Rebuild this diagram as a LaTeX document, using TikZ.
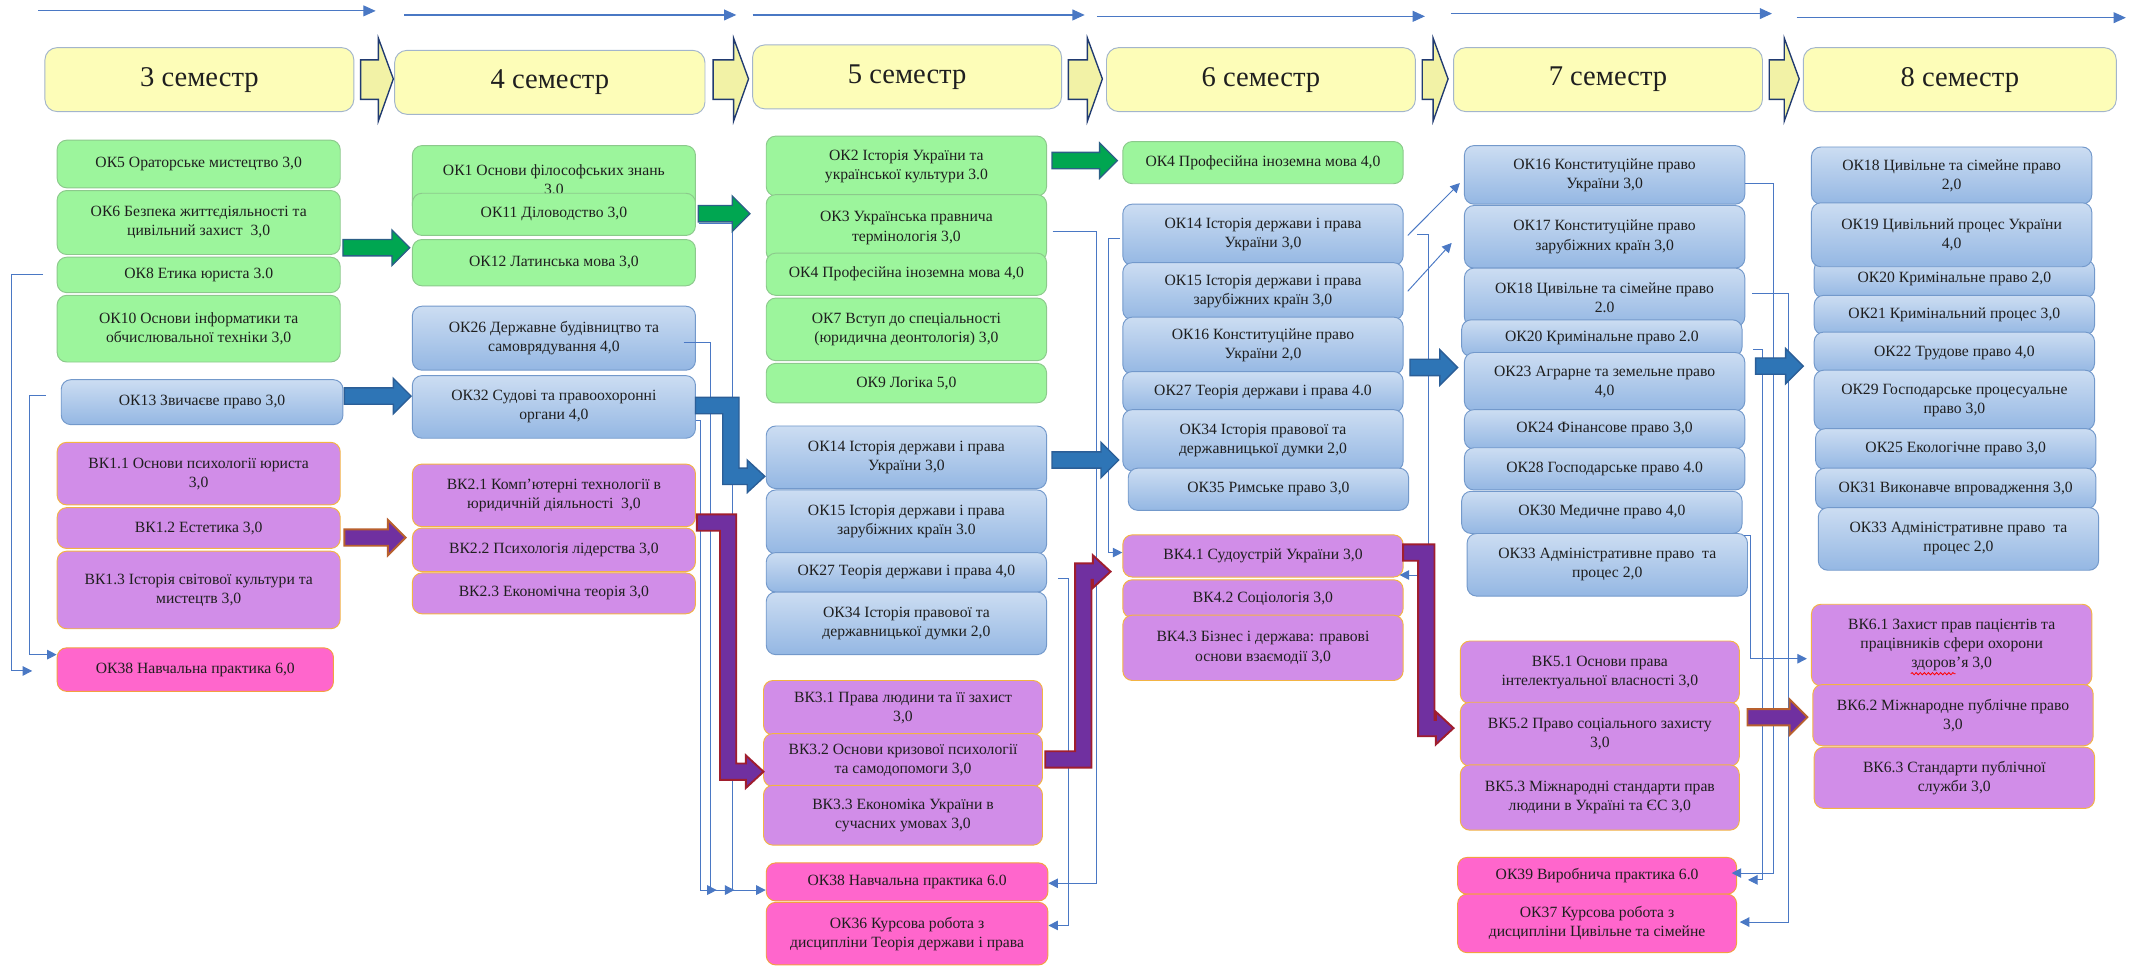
\documentclass[tikz,border=0pt]{standalone}
\usepackage{fontspec}
\setmainfont{Liberation Serif}
\usetikzlibrary{arrows.meta,decorations.pathmorphing}

\definecolor{hdrfill}{HTML}{FDFDB8}
\definecolor{hdrdraw}{HTML}{A3B5CC}
\definecolor{grfill}{HTML}{9CF59C}
\definecolor{grdraw}{HTML}{8CC98C}
\definecolor{bltop}{HTML}{CCDDF2}
\definecolor{blbot}{HTML}{94B7E3}
\definecolor{bldraw}{HTML}{7399CB}
\definecolor{vkfill}{HTML}{D18DE8}
\definecolor{vkdraw}{HTML}{F3B443}
\definecolor{pkfill}{HTML}{FF66CC}
\definecolor{pkdraw}{HTML}{F3A040}
\definecolor{conn}{HTML}{4A78C4}
\definecolor{agreen}{HTML}{00A651}
\definecolor{agreend}{HTML}{2B5F86}
\definecolor{ablue}{HTML}{2E75B6}
\definecolor{abluedraw}{HTML}{2B5E97}
\definecolor{apurple}{HTML}{7030A0}
\definecolor{apurpd}{HTML}{B8602E}
\definecolor{apurpr}{HTML}{A01E2E}
\definecolor{chevfill}{HTML}{F2F2A6}
\definecolor{chevdraw}{HTML}{203A70}

\tikzset{
 box/.style={rounded corners=7pt, line width=0.7pt, align=center, inner sep=1pt,
   font=\fontsize{11.5}{14}\selectfont, text=black!88},
 hdr/.style={box, fill=hdrfill, draw=hdrdraw, font=\fontsize{21}{24}\selectfont, rounded corners=9pt},
 okg/.style={box, fill=grfill, draw=grdraw},
 okb/.style={box, top color=bltop, bottom color=blbot, draw=bldraw},
 vk/.style={box, fill=vkfill, draw=vkdraw},
 pk/.style={box, fill=pkfill, draw=pkdraw},
 cn/.style={draw=conn, line width=0.7pt, -{Triangle[length=7pt,width=7pt]}},
 tar/.style={draw=conn, line width=0.8pt, -{Triangle[length=9pt,width=8pt]}},
 garr/.style={fill=agreen, draw=agreend, line width=1pt},
 barr/.style={fill=ablue, draw=abluedraw, line width=1pt},
 parr/.style={fill=apurple, draw=apurpd, line width=1.4pt},
 parrb/.style={fill=apurple, draw=apurpr, line width=1.4pt},
 chev/.style={fill=chevfill, draw=chevdraw, line width=1pt},
}

% box: style, name, x1, y1, x2, y2, text
\newcommand\bx[7]{\node[#1,minimum width=#5-#3,minimum height=#6-#4] (#2) at ({(#3+#5)/2},{(#4+#6)/2}) {#7};}
% straight block arrow: x1, x2, y, style
\newcommand\sarr[4]{\filldraw[#4] (#1,#3-6) -- (#2-13,#3-6) -- (#2-13,#3-13) -- (#2,#3) -- (#2-13,#3+13) -- (#2-13,#3+6) -- (#1,#3+6) -- cycle;}
% bent block arrow going down: x0, y0, xc, y1, x2, style
\newcommand\bdown[6]{\filldraw[#6] (#1,#2-6) -- (#3+6,#2-6) -- (#3+6,#4-6) -- (#5-13,#4-6) -- (#5-13,#4-12) -- (#5,#4) -- (#5-13,#4+12) -- (#5-13,#4+6) -- (#3-6,#4+6) -- (#3-6,#2+6) -- (#1,#2+6) -- cycle;}
% bent block arrow going up
\newcommand\bup[6]{\filldraw[#6] (#1,#2+6) -- (#3+6,#2+6) -- (#3+6,#4+6) -- (#5-13,#4+6) -- (#5-13,#4+12) -- (#5,#4) -- (#5-13,#4-12) -- (#5-13,#4-6) -- (#3-6,#4-6) -- (#3-6,#2-6) -- (#1,#2-6) -- cycle;}
% chevron between headers: x1, x2
\newcommand\chv[2]{\filldraw[chev] (#1,44) -- (#2-11,44) -- (#2-11,28) -- (#2,58) -- (#2-11,89) -- (#2-11,73) -- (#1,73) -- cycle;}

\begin{document}
\begin{tikzpicture}[x=1pt,y=-1pt]
\useasboundingbox (0,0) rectangle (1568,711);

% top arrows
\coordinate (t1a) at (28,8);    \coordinate (t1b) at (276,8);
\coordinate (t2a) at (297,11);  \coordinate (t2b) at (541,11);
\coordinate (t3a) at (553,11);  \coordinate (t3b) at (797,11);
\coordinate (t4a) at (806,12);  \coordinate (t4b) at (1047,12);
\coordinate (t5a) at (1066,10); \coordinate (t5b) at (1302,10);
\coordinate (t6a) at (1320,13); \coordinate (t6b) at (1562,13);
\foreach \i in {1,...,6} {\draw[tar] (t\i a) -- (t\i b);}

% headers
\bx{hdr}{h3}{33}{35}{260}{82}{3 семестр}
\bx{hdr}{h4}{290}{37}{518}{84}{4 семестр}
\bx{hdr}{h5}{553}{33}{780}{80}{5 семестр}
\bx{hdr}{h6}{813}{35}{1040}{82}{6 семестр}
\bx{hdr}{h7}{1068}{35}{1295}{82}{7 семестр}
\bx{hdr}{h8}{1325}{35}{1555}{82}{8 семестр}
\chv{265}{289}
\chv{524}{550}
\chv{785}{810}
\chv{1045}{1064}
\chv{1300}{1322}

% column 1
\bx{okg}{a5}{42}{103}{250}{138}{ОК5 Ораторське мистецтво 3,0}
\bx{okg}{a6}{42}{140}{250}{187}{ОК6 Безпека життєдіяльності та\\цивільний захист\ \ 3,0}
\bx{okg}{a8}{42}{189}{250}{215}{ОК8 Етика юриста 3.0}
\bx{okg}{a10}{42}{217}{250}{266}{ОК10 Основи інформатики та\\обчислювальної техніки 3,0}
\bx{okb}{a13}{45}{279}{252}{312}{ОК13 Звичаєве право 3,0}
\bx{vk}{a11v}{42}{325}{250}{371}{ВК1.1 Основи психології юриста\\3,0}
\bx{vk}{a12v}{42}{373}{250}{403}{ВК1.2 Естетика 3,0}
\bx{vk}{a13v}{42}{405}{250}{462}{ВК1.3 Історія світової культури та\\мистецтв 3,0}
\bx{pk}{a38}{42}{476}{245}{508}{ОК38 Навчальна практика 6,0}

% column 2
\bx{okg}{b1}{303}{107}{511}{158}{ОК1 Основи філософських знань\\3,0}
\bx{okg}{b11}{303}{142}{511}{173}{ОК11 Діловодство 3,0}
\bx{okg}{b12}{303}{176}{511}{210}{ОК12 Латинська мова 3,0}
\bx{okb}{b26}{303}{225}{511}{272}{ОК26 Державне будівництво та\\самоврядування 4,0}
\bx{okb}{b32}{303}{276}{511}{322}{ОК32 Судові та правоохоронні\\органи 4,0}
\bx{vk}{b21v}{303}{341}{511}{387}{ВК2.1 Комп’ютерні технології в\\юридичній діяльності\ \ 3,0}
\bx{vk}{b22v}{303}{388}{511}{420}{ВК2.2 Психологія лідерства 3,0}
\bx{vk}{b23v}{303}{421}{511}{451}{ВК2.3 Економічна теорія 3,0}

% column 3
\bx{okg}{c2}{563}{100}{769}{144}{ОК2 Історія України та\\української культури 3.0}
\bx{okg}{c3}{563}{143}{769}{192}{ОК3 Українська правнича\\термінологія 3,0}
\bx{okg}{c4}{563}{186}{769}{217}{ОК4 Професійна іноземна мова 4,0}
\bx{okg}{c7}{563}{219}{769}{265}{ОК7 Вступ до спеціальності\\(юридична деонтологія) 3,0}
\bx{okg}{c9}{563}{267}{769}{296}{ОК9 Логіка 5,0}
\bx{okb}{c14}{563}{313}{769}{359}{ОК14 Історія держави і права\\України 3,0}
\bx{okb}{c15}{563}{360}{769}{407}{ОК15 Історія держави і права\\зарубіжних країн 3.0}
\bx{okb}{c27}{563}{406}{769}{435}{ОК27 Теорія держави і права 4,0}
\bx{okb}{c34}{563}{435}{769}{481}{ОК34 Історія правової та\\державницької думки 2,0}
\bx{vk}{c31v}{561}{500}{766}{540}{ВК3.1 Права людини та її захист\\3,0}
\bx{vk}{c32v}{561}{539}{766}{578}{ВК3.2 Основи кризової психології\\та самодопомоги 3,0}
\bx{vk}{c33v}{561}{577}{766}{621}{ВК3.3 Економіка України в\\сучасних умовах 3,0}
\bx{pk}{c38}{563}{634}{770}{662}{ОК38 Навчальна практика 6.0}
\bx{pk}{c36}{563}{663}{770}{709}{ОК36 Курсова робота з\\дисципліни Теорія держави і права}

% column 4
\bx{okg}{d4}{825}{104}{1031}{135}{ОК4 Професійна іноземна мова 4,0}
\bx{okb}{d14}{825}{150}{1031}{195}{ОК14 Історія держави і права\\України 3,0}
\bx{okb}{d15}{825}{193}{1031}{235}{ОК15 Історія держави і права\\зарубіжних країн 3,0}
\bx{okb}{d16}{825}{233}{1031}{275}{ОК16 Конституційне право\\України 2,0}
\bx{okb}{d27}{825}{273}{1031}{303}{ОК27 Теорія держави і права 4.0}
\bx{okb}{d34}{825}{301}{1031}{346}{ОК34 Історія правової та\\державницької думки 2,0}
\bx{okb}{d35}{829}{344}{1035}{375}{ОК35 Римське право 3,0}
\bx{vk}{d41v}{825}{393}{1031}{424}{ВК4.1 Судоустрій України 3,0}
\bx{vk}{d42v}{825}{426}{1031}{454}{ВК4.2 Соціологія 3,0}
\bx{vk}{d43v}{825}{452}{1031}{500}{ВК4.3 Бізнес і держава: правові\\основи взаємодії 3,0}

% column 5
\bx{okb}{e16}{1076}{107}{1282}{150}{ОК16 Конституційне право\\України 3,0}
\bx{okb}{e17}{1076}{151}{1282}{197}{ОК17 Конституційне право\\зарубіжних країн 3,0}
\bx{okb}{e18}{1076}{197}{1282}{240}{ОК18 Цивільне та сімейне право\\2.0}
\bx{okb}{e20}{1074}{235}{1280}{262}{ОК20 Кримінальне право 2.0}
\bx{okb}{e23}{1076}{259}{1282}{302}{ОК23 Аграрне та земельне право\\4,0}
\bx{okb}{e24}{1076}{301}{1282}{330}{ОК24 Фінансове право 3,0}
\bx{okb}{e28}{1076}{329}{1282}{360}{ОК28 Господарське право 4.0}
\bx{okb}{e30}{1074}{361}{1280}{392}{ОК30 Медичне право 4,0}
\bx{okb}{e33}{1078}{392}{1284}{438}{ОК33 Адміністративне право\ \ та\\процес 2,0}
\bx{vk}{e51v}{1073}{471}{1278}{517}{ВК5.1 Основи права\\інтелектуальної власності 3,0}
\bx{vk}{e52v}{1073}{516}{1278}{563}{ВК5.2 Право соціального захисту\\3,0}
\bx{vk}{e53v}{1073}{562}{1278}{610}{ВК5.3 Міжнародні стандарти прав\\людини в Україні та ЄС 3,0}
\bx{pk}{e39}{1071}{630}{1276}{657}{ОК39 Виробнича практика 6.0}
\bx{pk}{e37}{1071}{657}{1276}{700}{ОК37 Курсова робота з\\дисципліни Цивільне та сімейне}

% column 6
\bx{okb}{f18}{1331}{108}{1537}{150}{ОК18 Цивільне та сімейне право\\2,0}
\bx{okb}{f20}{1333}{191}{1539}{219}{ОК20 Кримінальне право 2,0}
\bx{okb}{f19}{1331}{149}{1537}{196}{ОК19 Цивільний процес України\\4,0}
\bx{okb}{f21}{1333}{217}{1539}{246}{ОК21 Кримінальний процес 3,0}
\bx{okb}{f22}{1333}{244}{1539}{274}{ОК22 Трудове право 4,0}
\bx{okb}{f29}{1333}{272}{1539}{316}{ОК29 Господарське процесуальне\\право 3,0}
\bx{okb}{f25}{1334}{315}{1540}{345}{ОК25 Екологічне право 3,0}
\bx{okb}{f31}{1334}{344}{1540}{374}{ОК31 Виконавче впровадження 3,0}
\bx{okb}{f33}{1336}{373}{1542}{419}{ОК33 Адміністративне право\ \ та\\процес 2,0}
\bx{vk}{f61v}{1331}{444}{1537}{504}{ВК6.1 Захист прав пацієнтів та\\працівників сфери охорони\\здоров’я 3,0}
\bx{vk}{f62v}{1332}{503}{1538}{548}{ВК6.2 Міжнародне публічне право\\3,0}
\bx{vk}{f63v}{1333}{549}{1539}{594}{ВК6.3 Стандарти публічної\\служби 3,0}
\draw[red, line width=0.6pt, decorate, decoration={snake,amplitude=0.8pt,segment length=3pt}] (1404,495) -- (1437,495);

% thin connectors
\draw[cn] ([xshift=-10pt]a8.west) -- ++(-23,0) |- ([xshift=-18pt,yshift=-1pt]a38.west);
\draw[cn] ([xshift=-11pt,yshift=5pt]a13.west) -- ++(-12,0) |- ([yshift=11pt]a38.west);
\draw[cn] ([xshift=2pt,yshift=-7pt]b11.east) -- ++(25,0) |- ([yshift=-6pt]c38.west);
\draw[cn] ([xshift=-9pt,yshift=-3pt]b26.east) -- ++(20,0) |- ([xshift=-23pt,yshift=-6pt]c38.west);
\draw[cn] ([yshift=-10pt]b32.east) -- ++(3,0) |- ([xshift=-36pt,yshift=-6pt]c38.west);
\draw[cn] ([xshift=4pt,yshift=-2.5pt]c3.east) -- ++(32,0) |- ([yshift=-1pt]c38.east);
\draw[cn] ([xshift=8pt,yshift=-4.5pt]c27.east) -- ++(8,0) |- ([yshift=6pt]c36.east);
\draw[cn] ([xshift=10pt]d14.east) -- ++(8,0) |- ([xshift=-3pt,yshift=-14pt]d41v.east);
\draw[cn] ([xshift=-2pt,yshift=-3pt]d14.west) -- ++(-8,0) |- ([yshift=2.5pt]d41v.west);
\draw[cn] ([xshift=3pt,yshift=-0.5pt]d14.east) -- ([xshift=-3pt,yshift=-6pt]e16.west);
\draw[cn] ([xshift=3pt]d15.east) -- ([xshift=-9pt,yshift=-4.5pt]e17.west);
\draw[cn] ([yshift=-6pt]e16.east) -- ++(21,0) |- ([xshift=-4pt,yshift=2pt]e39.east);
\draw[cn] ([xshift=8pt,yshift=-8pt]e20.east) -- ++(7,0) |- ([xshift=8pt,yshift=-3pt]e39.east);
\draw[cn] ([xshift=5pt,yshift=3pt]e18.east) -- ++(27,0) |- ([xshift=2pt,yshift=1pt]e37.east);
\draw[cn] ([xshift=-3pt,yshift=-2pt]e33.north east) -- ++(5,0) |- ([xshift=-3pt,yshift=-10pt]f61v.west);

% block arrows
\sarr{252}{301}{182}{garr}
\sarr{253}{302}{291}{barr}
\sarr{253}{298}{395}{parr}
\sarr{513}{551}{157}{garr}
\sarr{773}{821}{118}{garr}
\sarr{773}{822}{338}{barr}
\sarr{1036}{1071}{270}{barr}
\sarr{1290}{1325}{269}{barr}
\sarr{1284}{1328}{527}{parr}
\bdown{511}{298}{537}{350}{562}{barr}
\bdown{512}{384}{535}{567}{561}{parrb}
\bup{768}{558}{796}{420}{816}{parrb}
\bdown{1031}{406}{1048}{535}{1068}{parrb}
\end{tikzpicture}
\end{document}
